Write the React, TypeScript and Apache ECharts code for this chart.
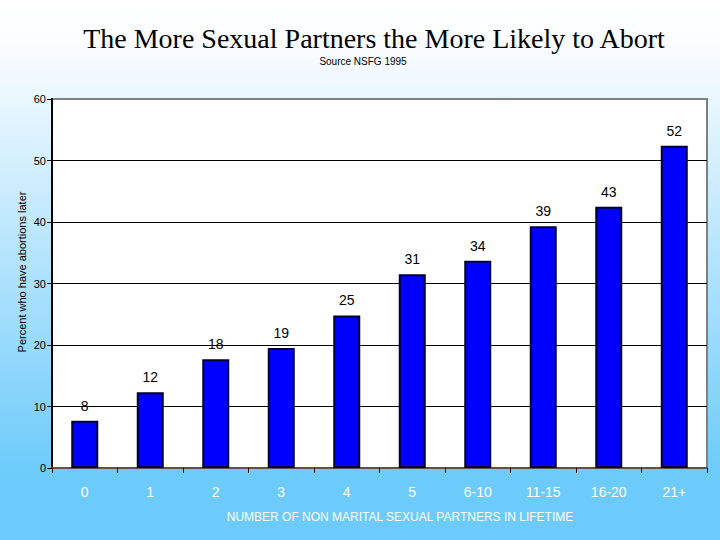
import React, { useEffect, useRef } from "react";
import * as echarts from "echarts";

const categories = ["0", "1", "2", "3", "4", "5", "6-10", "11-15", "16-20", "21+"];
const values = [7.7, 12.3, 17.7, 19.5, 24.8, 31.5, 33.7, 39.3, 42.5, 52.4];
const labels = ["8", "12", "18", "19", "25", "31", "34", "39", "43", "52"];
const yTicks = [0, 10, 20, 30, 40, 50, 60];

const titleText = "The More Sexual Partners the More Likely to Abort";
const subtitleText = "Source NSFG 1995";
const xName = "NUMBER OF NON MARITAL SEXUAL PARTNERS IN LIFETIME";
const yName = "Percent who have abortions later";

export default function App() {
  const ref = useRef<HTMLDivElement>(null);
  useEffect(() => {
    if (!ref.current) return;
    const chart = echarts.init(ref.current, null, { renderer: "svg" });
    chart.setOption({
      animation: false,
      backgroundColor: new echarts.graphic.LinearGradient(0, 0, 0, 1, [
        { offset: 0, color: "#ffffff" },
        { offset: 0.08, color: "#fbfdff" },
        { offset: 0.88, color: "#6ccbfa" },
        { offset: 1, color: "#6ccbfa" },
      ]),
      title: [
        {
          text: titleText,
          left: 369,
          top: 19,
          textAlign: "center",
          textStyle: {
            fontFamily: "Liberation Serif, Times New Roman, serif",
            fontSize: 28,
            fontWeight: "normal",
            color: "#000",
          },
        },
        {
          text: subtitleText,
          left: 358,
          top: 51,
          textAlign: "center",
          textStyle: {
            fontFamily: "Liberation Sans, Arial, sans-serif",
            fontSize: 10,
            fontWeight: "normal",
            color: "#000",
          },
        },
      ],
      graphic: [
        {
          type: "text",
          x: 22,
          y: 272,
          rotation: Math.PI / 2,
          style: {
            text: yName,
            fill: "#000",
            fontSize: 11,
            fontFamily: "Liberation Sans, Arial, sans-serif",
            align: "center",
            verticalAlign: "middle",
          },
        },
      ],
      grid: {
        left: 52,
        right: 13,
        top: 99,
        bottom: 72,
        show: true,
        backgroundColor: "#ffffff",
        borderColor: "#808080",
        borderWidth: 2,
      },
      xAxis: {
        type: "category",
        data: categories,
        name: xName,
        nameLocation: "middle",
        nameGap: 43,
        nameTextStyle: {
          color: "#ffffff",
          fontSize: 12,
          fontFamily: "Liberation Sans, Arial, sans-serif",
          padding: [0, 0, 0, 41],
        },
        axisLine: { show: true, lineStyle: { color: "#555555", width: 2 } },
        axisTick: { show: true, length: 5, lineStyle: { color: "#000" } },
        axisLabel: {
          color: "#ffffff",
          fontSize: 14,
          margin: 17,
          fontFamily: "Liberation Sans, Arial, sans-serif",
        },
      },
      yAxis: {
        type: "value",
        min: 0,
        max: 60,
        interval: 10,
        axisLine: { show: true, lineStyle: { color: "#000", width: 2 } },
        axisTick: { show: true, length: 5, lineStyle: { color: "#000" } },
        axisLabel: {
          color: "#000",
          fontSize: 11,
          margin: 6,
          fontFamily: "Liberation Sans, Arial, sans-serif",
          formatter: (v: number) => (yTicks.includes(v) ? String(v) : ""),
        },
        splitLine: {
          show: true,
          showMinLine: false,
          showMaxLine: false,
          lineStyle: { color: "#000", width: 1 },
        },
      },
      series: [
        {
          type: "bar",
          data: values,
          barWidth: 27,
          itemStyle: { color: "#0000ff", borderColor: "#000033", borderWidth: 2 },
          label: {
            show: true,
            position: "top",
            distance: 8,
            fontSize: 14,
            color: "#000",
            fontFamily: "Liberation Sans, Arial, sans-serif",
            formatter: (p: any) => labels[p.dataIndex],
          },
        },
      ],
    });
    return () => chart.dispose();
  }, []);
  return <div ref={ref} style={{ width: 720, height: 540, position: "absolute", left: 0, top: 0 }} />;
}
